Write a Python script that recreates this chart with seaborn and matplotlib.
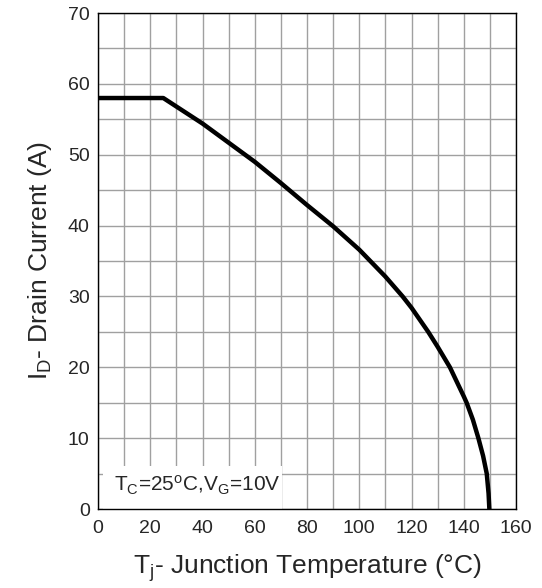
import numpy as np
import pandas as pd
import matplotlib
matplotlib.use('Agg')
import matplotlib.pyplot as plt
from matplotlib.patches import Rectangle
from matplotlib.ticker import MultipleLocator
import seaborn as sns

# curva
temp_c = [0, 25, 40, 50, 60, 70, 80, 90, 100, 110, 116.6, 120, 126.4, 130, 134.7,
          140, 141.1, 143.5, 145.6, 147.4, 148.8, 149.5, 149.8]
drain_a = [58, 58, 54.4, 51.7, 49.0, 46.0, 42.9, 39.9, 36.6, 32.8, 30, 28.4, 25, 22.9, 20,
           15.9, 15, 12.6, 10, 7.5, 5, 2.2, 0]

x_ticks = [0, 20, 40, 60, 80, 100, 120, 140, 160]
y_ticks = [0, 10, 20, 30, 40, 50, 60, 70]

df = pd.DataFrame({'Tj': temp_c, 'ID': drain_a})

sns.set_style('white')
plt.rcParams['font.family'] = ['Liberation Sans', 'DejaVu Sans']
plt.rcParams['mathtext.fontset'] = 'custom'
plt.rcParams['mathtext.rm'] = 'Liberation Sans'
plt.rcParams['mathtext.it'] = 'Liberation Sans'

fig = plt.figure(figsize=(5.42, 5.88), dpi=100)
ax = fig.add_axes([98 / 542, 1 - 509 / 588, 418 / 542, 496 / 588])

sns.lineplot(data=df, x='Tj', y='ID', color='black', linewidth=3.2,
             estimator=None, ax=ax, zorder=3)

ax.set_xlim(0, 160)
ax.set_ylim(0, 70)
ax.set_xticks(x_ticks)
ax.set_yticks(y_ticks)
ax.xaxis.set_minor_locator(MultipleLocator(10))
ax.yaxis.set_minor_locator(MultipleLocator(5))
ax.grid(True, which='both', color='#a0a0a0', linewidth=1.0)
ax.set_axisbelow(True)
ax.tick_params(which='both', direction='in', length=4, width=1, color='#888888',
               labelsize=14, pad=6)
ax.tick_params(axis='x', pad=8)
for s in ax.spines.values():
    s.set_color('black')
    s.set_linewidth(1.0)

ax.set_xlabel(r'T$\mathregular{_j}$- Junction Temperature (°C)', fontsize=19, labelpad=11)
ax.set_ylabel(r'I$\mathregular{_D}$- Drain Current (A)', fontsize=19, labelpad=10)

# caixa branca da anotação
ax.add_patch(Rectangle((1.9, 0), 68.5, 6.1, facecolor='white', edgecolor='none', zorder=1.5))
ax.text(6.1, 2.45, r'T$\mathregular{_C}$=25$\mathregular{^o}$C,V$\mathregular{_G}$=10V',
        fontsize=15, ha='left', va='baseline', zorder=2)

fig.savefig('out.png', dpi=100)
